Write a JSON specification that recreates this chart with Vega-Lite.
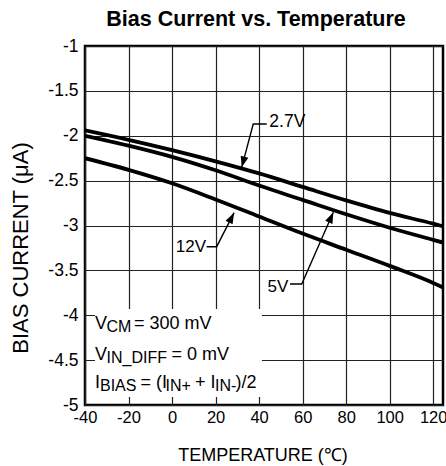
{
  "$schema": "https://vega.github.io/schema/vega-lite/v6.json",
  "width": 358,
  "height": 359,
  "autosize": {"type": "none"},
  "padding": {"left": 85, "top": 46, "right": 3, "bottom": 61},
  "background": "white",
  "title": {"text": "Bias Current vs. Temperature", "fontSize": 21.5, "fontWeight": "bold", "font": "Liberation Sans", "color": "black", "anchor": "middle", "frame": "group", "offset": 7, "dx": -8},
  "config": {
    "font": "Liberation Sans",
    "view": {"stroke": "black", "strokeWidth": 2.5},
    "axis": {"labelColor": "black", "titleColor": "black", "labelFont": "Liberation Sans", "titleFont": "Liberation Sans", "titleFontWeight": "normal", "gridColor": "#222222", "gridWidth": 1.2, "gridOpacity": 1, "ticks": false, "domain": false, "labelFlush": false, "labelOverlap": false, "labelExpr": "replace(datum.label, '−', '-')"}
  },
  "datasets": {
    "curves": [
      {"supply": "2.7V", "temp": -40, "bias": -1.94}, {"supply": "2.7V", "temp": -20, "bias": -2.045}, {"supply": "2.7V", "temp": 0, "bias": -2.16}, {"supply": "2.7V", "temp": 20, "bias": -2.285}, {"supply": "2.7V", "temp": 40, "bias": -2.42}, {"supply": "2.7V", "temp": 60, "bias": -2.57}, {"supply": "2.7V", "temp": 80, "bias": -2.72}, {"supply": "2.7V", "temp": 100, "bias": -2.86}, {"supply": "2.7V", "temp": 120, "bias": -2.98}, {"supply": "2.7V", "temp": 124.5, "bias": -3.01},
      {"supply": "5V", "temp": -40, "bias": -2.0}, {"supply": "5V", "temp": -20, "bias": -2.11}, {"supply": "5V", "temp": 0, "bias": -2.235}, {"supply": "5V", "temp": 20, "bias": -2.385}, {"supply": "5V", "temp": 40, "bias": -2.555}, {"supply": "5V", "temp": 60, "bias": -2.715}, {"supply": "5V", "temp": 80, "bias": -2.875}, {"supply": "5V", "temp": 100, "bias": -3.025}, {"supply": "5V", "temp": 120, "bias": -3.16}, {"supply": "5V", "temp": 124.5, "bias": -3.19},
      {"supply": "12V", "temp": -40, "bias": -2.25}, {"supply": "12V", "temp": -20, "bias": -2.38}, {"supply": "12V", "temp": 0, "bias": -2.53}, {"supply": "12V", "temp": 20, "bias": -2.71}, {"supply": "12V", "temp": 40, "bias": -2.9}, {"supply": "12V", "temp": 60, "bias": -3.09}, {"supply": "12V", "temp": 80, "bias": -3.27}, {"supply": "12V", "temp": 100, "bias": -3.45}, {"supply": "12V", "temp": 120, "bias": -3.64}, {"supply": "12V", "temp": 124.5, "bias": -3.69}
    ],
    "leaders": [
      {"label": "2.7V", "seq": 1, "temp": 43.5, "bias": -1.869}, {"label": "2.7V", "seq": 2, "temp": 37.3, "bias": -1.869}, {"label": "2.7V", "seq": 3, "temp": 32.0, "bias": -2.352},
      {"label": "12V", "seq": 1, "temp": 15.9, "bias": -3.236}, {"label": "12V", "seq": 2, "temp": 20.5, "bias": -3.236}, {"label": "12V", "seq": 3, "temp": 28.5, "bias": -2.857},
      {"label": "5V", "seq": 1, "temp": 54.2, "bias": -3.652}, {"label": "5V", "seq": 2, "temp": 59.6, "bias": -3.652}, {"label": "5V", "seq": 3, "temp": 74.1, "bias": -2.853}
    ],
    "tips": [
      {"label": "2.7V", "temp": 32.0, "bias": -2.352},
      {"label": "12V", "temp": 28.5, "bias": -2.857},
      {"label": "5V", "temp": 74.1, "bias": -2.853}
    ],
    "labels": [
      {"label": "2.7V", "side": "left", "temp": 44.7, "bias": -1.852},
      {"label": "12V", "side": "right", "temp": 15.6, "bias": -3.24},
      {"label": "5V", "side": "right", "temp": 53.4, "bias": -3.68}
    ],
    "box": [{"t1": -35.4, "t2": 41.3, "b1": -3.93, "b2": -4.911}],
    "notes": [
      {"kind": "main", "text": "V", "temp": -35.41, "bias": -4.153},
      {"kind": "sub", "text": "CM", "temp": -30.12, "bias": -4.187},
      {"kind": "main", "text": "= 300 mV", "temp": -17.48, "bias": -4.153},
      {"kind": "main", "text": "V", "temp": -35.41, "bias": -4.499},
      {"kind": "sub", "text": "IN_DIFF", "temp": -30.12, "bias": -4.532},
      {"kind": "main", "text": "= 0 mV", "temp": -0.25, "bias": -4.499},
      {"kind": "main", "text": "I", "temp": -35.41, "bias": -4.811},
      {"kind": "sub", "text": "BIAS", "temp": -33.11, "bias": -4.844},
      {"kind": "main", "text": "= (I", "temp": -14.5, "bias": -4.811},
      {"kind": "sub", "text": "IN+", "temp": -3.01, "bias": -4.844},
      {"kind": "main", "text": "+ I", "temp": 10.54, "bias": -4.811},
      {"kind": "sub", "text": "IN-", "temp": 19.73, "bias": -4.844},
      {"kind": "main", "text": ")/2", "temp": 29.2, "bias": -4.811}
    ]
  },
  "encoding": {
    "x": {"field": "temp", "type": "quantitative", "scale": {"domain": [-40, 124.5], "nice": false, "zero": false},
      "axis": {"values": [-40, -20, 0, 20, 40, 60, 80, 100, 120], "format": "d", "labelFontSize": 16.5, "labelPadding": 4, "title": "TEMPERATURE (℃)", "titleFontSize": 18, "titleX": 177.5, "titleY": 50, "titleBaseline": "middle", "titleAlign": "center"}},
    "y": {"field": "bias", "type": "quantitative", "scale": {"domain": [-5, -1], "nice": false, "zero": false},
      "axis": {"values": [-1, -1.5, -2, -2.5, -3, -3.5, -4, -4.5, -5], "format": "~g", "labelFontSize": 17.5, "labelPadding": 7, "title": "BIAS CURRENT (μA)", "titleFontSize": 22, "titleX": -64.5, "titleY": 201.5, "titleAngle": -90, "titleAlign": "center", "titleBaseline": "middle"}}
  },
  "layer": [
    {
      "data": {"name": "curves"},
      "mark": {"type": "line", "color": "black", "strokeWidth": 3.8, "clip": true, "interpolate": "monotone"},
      "encoding": {"detail": {"field": "supply"}}
    },
    {
      "data": {"name": "box"},
      "mark": {"type": "rect", "fill": "white", "stroke": null},
      "encoding": {
        "x": {"field": "t1", "type": "quantitative"},
        "x2": {"field": "t2"},
        "y": {"field": "b1", "type": "quantitative"},
        "y2": {"field": "b2"}
      }
    },
    {
      "data": {"name": "leaders"},
      "mark": {"type": "line", "color": "black", "strokeWidth": 1.4},
      "encoding": {"detail": {"field": "label"}, "order": {"field": "seq", "type": "quantitative"}}
    },
    {
      "data": {"name": "tips"},
      "transform": [{"filter": "datum.label === '2.7V'"}],
      "mark": {"type": "point", "shape": "M0,0L-0.36,1L0.36,1Z", "size": 484, "angle": 195, "filled": true, "color": "black", "opacity": 1, "strokeWidth": 0}
    },
    {
      "data": {"name": "tips"},
      "transform": [{"filter": "datum.label === '12V'"}],
      "mark": {"type": "point", "shape": "M0,0L-0.36,1L0.36,1Z", "size": 484, "angle": 27, "filled": true, "color": "black", "opacity": 1, "strokeWidth": 0}
    },
    {
      "data": {"name": "tips"},
      "transform": [{"filter": "datum.label === '5V'"}],
      "mark": {"type": "point", "shape": "M0,0L-0.36,1L0.36,1Z", "size": 484, "angle": 24, "filled": true, "color": "black", "opacity": 1, "strokeWidth": 0}
    },
    {
      "data": {"name": "labels"},
      "transform": [{"filter": "datum.side === 'left'"}],
      "mark": {"type": "text", "align": "left", "baseline": "middle", "fontSize": 17.5, "color": "black"},
      "encoding": {"text": {"field": "label"}}
    },
    {
      "data": {"name": "labels"},
      "transform": [{"filter": "datum.side === 'right'"}],
      "mark": {"type": "text", "align": "right", "baseline": "middle", "fontSize": 17, "color": "black"},
      "encoding": {"text": {"field": "label"}}
    },
    {
      "data": {"name": "notes"},
      "transform": [{"filter": "datum.kind === 'main'"}],
      "mark": {"type": "text", "align": "left", "baseline": "alphabetic", "fontSize": 18, "color": "black"},
      "encoding": {"text": {"field": "text"}}
    },
    {
      "data": {"name": "notes"},
      "transform": [{"filter": "datum.kind === 'sub'"}],
      "mark": {"type": "text", "align": "left", "baseline": "alphabetic", "fontSize": 16, "color": "black"},
      "encoding": {"text": {"field": "text"}}
    }
  ]
}
